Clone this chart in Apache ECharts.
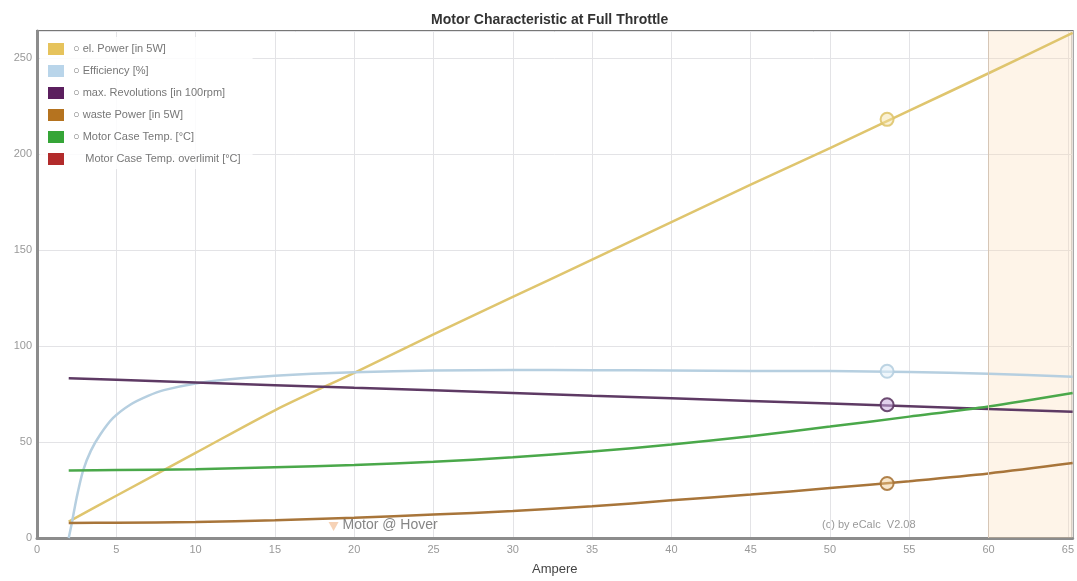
<!DOCTYPE html>
<html>
<head>
<meta charset="utf-8">
<script src="https://cdn.jsdelivr.net/npm/echarts@6/dist/echarts.min.js"></script>
<style>
html,body{margin:0;padding:0;background:#fff;overflow:hidden;}
#chart{width:1077px;height:581px;}
</style>
</head>
<body>
<div id="chart"></div>
<script>
// ---- data ----
const ampere      = [2, 5, 10, 15, 20, 25, 30, 35, 40, 45, 50, 55, 60, 65.3];
const elPower     = [8.5, 22, 44.3, 66.5, 86, 106, 125.5, 145, 164.5, 184, 203, 222.5, 242, 263];
const revolutions = [83.2, 82.4, 81.0, 79.6, 78.2, 76.9, 75.5, 74.1, 72.8, 71.4, 70.0, 68.6, 67.2, 65.8];
const wastePower  = [7.8, 8.0, 8.3, 9.3, 10.6, 12.2, 14, 16.5, 19.6, 22.6, 26, 29.6, 33.6, 39];
const caseTemp    = [35.2, 35.4, 35.8, 36.8, 38, 39.7, 42, 45, 48.7, 53, 58, 63.2, 68.5, 75.5];

const effAmpere   = [2, 2.2, 2.5, 2.9, 3.4, 4, 4.8, 5.9, 7, 8, 10, 12, 15, 20, 25, 30, 35, 40, 45, 50, 55, 60, 65.3];
const efficiency  = [0, 8, 21, 35, 45.5, 54, 62.5, 69.5, 74, 77, 80.5, 82.5, 84.5, 86.3, 87.2, 87.5, 87.4, 87.2, 87, 86.9, 86.5, 85.5, 84];

const operatingAmpere = 53.6;
const operatingValues = {elPower: 218, efficiency: 86.8, revolutions: 69.4, wastePower: 28.4};

const hoverPoint = [18.7, 6];
const overlimitFrom = 60;

const xTicks = [0, 5, 10, 15, 20, 25, 30, 35, 40, 45, 50, 55, 60, 65];
const yTicks = [0, 50, 100, 150, 200, 250];
const xMax = 65.3, yMax = 264;

const seriesNames = [
  '\u25CB el. Power [in 5W]',
  '\u25CB Efficiency [%]',
  '\u25CB max. Revolutions [in 100rpm]',
  '\u25CB waste Power [in 5W]',
  '\u25CB Motor Case Temp. [\u00B0C]',
  '    Motor Case Temp. overlimit [\u00B0C]'
];
const legendColors = ['#e6c35c', '#b9d5ea', '#5b1f5e', '#b5731f', '#35a537', '#b22b2b'];
const lineColors   = ['#dfc56e', '#b6cfe0', '#5e3a64', '#a8753a', '#4aa84a', '#b22b2b'];

const FONT = 'Liberation Sans, Arial, sans-serif';
const zip = (xs, ys) => xs.map((x, i) => [x, ys[i]]);

function lineSeries(idx, data, extra) {
  return Object.assign({
    name: seriesNames[idx],
    type: 'line',
    data: data,
    showSymbol: false,
    smooth: 0.3,
    color: legendColors[idx],
    lineStyle: {color: lineColors[idx], width: 2.5},
    z: 3
  }, extra || {});
}

function marker(idx, value, fill) {
  return {
    type: 'scatter',
    data: [[operatingAmpere, value]],
    symbol: 'circle',
    symbolSize: 13,
    itemStyle: {color: fill, borderColor: lineColors[idx], borderWidth: 2, opacity: 0.9},
    z: 5,
    silent: true
  };
}

const chart = echarts.init(document.getElementById('chart'));
chart.setOption({
  animation: false,
  backgroundColor: '#fff',
  title: {
    text: 'Motor Characteristic at Full Throttle',
    left: 426,
    top: 8,
    textStyle: {fontFamily: FONT, fontSize: 14, fontWeight: 'bold', color: '#333'}
  },
  grid: {left: 37, right: 0, top: 31, bottom: 38, show: true, borderColor: '#777', borderWidth: 2, backgroundColor: 'transparent'},
  legend: {
    orient: 'vertical',
    left: 40,
    top: 37,
    padding: [6, 12, 4, 8],
    itemWidth: 16,
    itemHeight: 12,
    itemGap: 10,
    icon: 'rect',
    backgroundColor: 'rgba(255,255,255,0.85)',
    data: seriesNames,
    textStyle: {fontFamily: FONT, fontSize: 11, color: '#777', padding: [0, 0, 0, 4]},
    selectedMode: false
  },
  xAxis: {
    type: 'value',
    min: 0, max: xMax, interval: 5,
    name: 'Ampere',
    nameLocation: 'middle',
    nameGap: 25,
    nameTextStyle: {fontFamily: FONT, fontSize: 13, color: '#444'},
    axisLine: {show: true, lineStyle: {color: '#8c8c8c', width: 3}},
    axisTick: {show: false},
    axisLabel: {
      fontFamily: FONT, fontSize: 11, color: '#999', margin: 6,
      formatter: v => xTicks.indexOf(Math.round(v * 100) / 100) >= 0 ? String(v) : ''
    },
    splitLine: {show: true, lineStyle: {color: '#e3e3e6', width: 1}}
  },
  yAxis: {
    type: 'value',
    min: 0, max: yMax, interval: 50,
    axisLine: {show: true, lineStyle: {color: '#8c8c8c', width: 3}},
    axisTick: {show: false},
    axisLabel: {
      fontFamily: FONT, fontSize: 11, color: '#999', margin: 5,
      formatter: v => yTicks.indexOf(Math.round(v * 100) / 100) >= 0 ? String(v) : ''
    },
    splitLine: {show: true, lineStyle: {color: '#e3e3e6', width: 1}}
  },
  graphic: [{
    type: 'text',
    left: 822,
    top: 519,
    style: {text: '(c) by eCalc  V2.08', fontFamily: FONT, fontSize: 11, fill: '#999'}
  }],
  series: [
    lineSeries(0, zip(ampere, elPower), {
      markArea: {
        silent: true,
        itemStyle: {color: 'rgba(250,214,172,0.28)'},
        data: [[{xAxis: overlimitFrom}, {xAxis: xMax}]]
      },
      markLine: {
        silent: true, symbol: 'none', label: {show: false},
        lineStyle: {color: '#d6c6b6', width: 1, type: 'solid'},
        data: [{xAxis: overlimitFrom}]
      }
    }),
    lineSeries(1, zip(effAmpere, efficiency), {smooth: 0.25}),
    lineSeries(2, zip(ampere, revolutions), {smooth: false}),
    lineSeries(3, zip(ampere, wastePower)),
    lineSeries(4, zip(ampere, caseTemp)),
    lineSeries(5, []),
    marker(0, operatingValues.elPower, 'rgba(245,225,160,0.5)'),
    marker(1, operatingValues.efficiency, 'rgba(225,238,248,0.6)'),
    marker(2, operatingValues.revolutions, 'rgba(200,170,220,0.6)'),
    marker(3, operatingValues.wastePower, 'rgba(240,200,140,0.5)'),
    {
      type: 'scatter',
      data: [hoverPoint],
      symbol: 'triangle',
      symbolRotate: 180,
      symbolSize: [10, 9],
      itemStyle: {color: '#f4c7a4'},
      z: 6,
      label: {
        show: true, position: 'right', distance: 4, offset: [0, -1],
        formatter: 'Motor @ Hover',
        fontFamily: FONT, fontSize: 14, color: '#666'
      }
    }
  ]
});
</script>
</body>
</html>
